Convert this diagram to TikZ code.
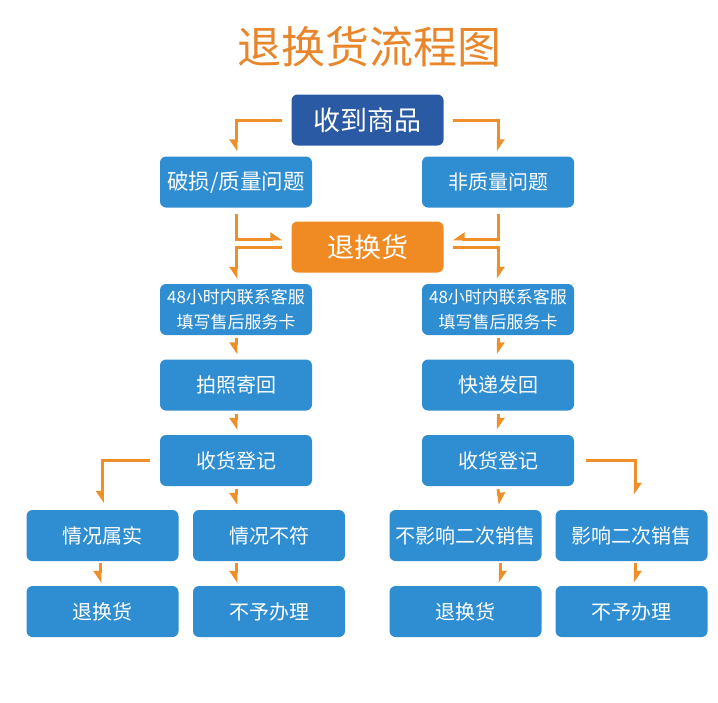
\documentclass[tikz,border=0pt]{standalone}
\usepackage{fontspec}
\setmainfont{Noto Sans CJK SC}
\usetikzlibrary{arrows.meta}
\definecolor{lightblue}{HTML}{2F8DD1}
\definecolor{darkblue}{HTML}{2A5AA3}
\definecolor{boxorange}{HTML}{F08A22}
\definecolor{arroworange}{HTML}{EF8F2A}
\definecolor{titleorange}{HTML}{E8862C}
\begin{document}
\begin{tikzpicture}[x=1pt,y=-1pt,
  box/.style={draw=none,fill=lightblue,text=white,rounded corners=6pt,minimum width=152pt,minimum height=51pt,inner sep=0pt,align=center,font=\fontsize{20}{25}\selectfont},
  wbar/.style={arroworange,line width=3pt,-{Triangle[right,length=10pt,width=13pt]}},
  ebar/.style={arroworange,line width=3pt,-{Triangle[left,length=10pt,width=13pt]}},
  plain/.style={arroworange,line width=3pt}]
\useasboundingbox (0,0) rectangle (718,702);
\node[text=titleorange,font=\fontsize{44}{50}\selectfont] (title) at (369,47) {退换货流程图};
\node[box,fill=darkblue,font=\fontsize{27}{30}\selectfont] (top) at (367.5,120) {收到商品};
\node[box,font=\fontsize{21.5}{26}\selectfont] (q1) at (236,182) {破损/质量问题};
\node[box] (q2) at (498,182) {非质量问题};
\node[box,fill=boxorange,font=\fontsize{27}{30}\selectfont] (th) at (367.5,247) {退换货};
\node[box,font=\fontsize{17}{25}\selectfont] (c1) at (236,309.5) {48小时内联系客服\\填写售后服务卡};
\node[box,font=\fontsize{17}{25}\selectfont] (c2) at (498,309.5) {48小时内联系客服\\填写售后服务卡};
\node[box] (p1) at (236,385) {拍照寄回};
\node[box] (p2) at (498,385) {快递发回};
\node[box] (r1) at (236,460.5) {收货登记};
\node[box] (r2) at (498,460.5) {收货登记};
\node[box] (b1) at (102.5,535.5) {情况属实};
\node[box] (b2) at (269,535.5) {情况不符};
\node[box] (b3) at (465.5,535.5) {不影响二次销售};
\node[box] (b4) at (631.5,535.5) {影响二次销售};
\node[box] (d1) at (102.5,611.5) {退换货};
\node[box] (d2) at (269,611.5) {不予办理};
\node[box] (d3) at (465.5,611.5) {退换货};
\node[box] (d4) at (631.5,611.5) {不予办理};
% top splits
\draw[wbar] ([xshift=-9pt]top.west) -| ([yshift=5pt]q1.north);
\draw[ebar] ([xshift=9pt]top.east) -| ([yshift=5pt]q2.north);
% into and out of 退换货
\draw[ebar] ([yshift=-6pt]q1.south) |- ([xshift=-9pt,yshift=8pt]th.west);
\draw[wbar] ([xshift=-9pt]th.west) -| ([yshift=5pt]c1.north);
\draw[wbar] ([yshift=-6pt]q2.south) |- ([xshift=9pt,yshift=8pt]th.east);
\draw[ebar] ([xshift=9pt]th.east) -| ([yshift=5pt]c2.north);
% left column
\draw[wbar] ([yshift=-3pt]c1.south) -- ([yshift=5pt]p1.north);
\draw[wbar] ([yshift=-3pt]p1.south) -- ([yshift=5pt]r1.north);
\draw[wbar] ([yshift=-3pt]r1.south) -- ([xshift=-33pt,yshift=5pt]b2.north);
\draw[wbar] ([xshift=-10pt]r1.west) -| ([yshift=7pt]b1.north);
% right column
\draw[ebar] ([yshift=-3pt]c2.south) -- ([yshift=5pt]p2.north);
\draw[ebar] ([yshift=-3pt]p2.south) -- ([yshift=5pt]r2.north);
\draw[ebar] ([yshift=-3pt]r2.south) -- ([xshift=34.5pt,yshift=5pt]b3.north);
\draw[ebar] ([xshift=12pt]r2.east) -| ([xshift=3.5pt,yshift=15pt]b4.north);
% bottom
\draw[wbar] ([xshift=-2.5pt,yshift=-2pt]b1.south) -- ([xshift=-2.5pt,yshift=3pt]d1.north);
\draw[wbar] ([xshift=-33pt,yshift=-2pt]b2.south) -- ([xshift=-33pt,yshift=3pt]d2.north);
\draw[ebar] ([xshift=34.5pt,yshift=-2pt]b3.south) -- ([xshift=34.5pt,yshift=3pt]d3.north);
\draw[ebar] ([xshift=3.5pt,yshift=-2pt]b4.south) -- ([xshift=3.5pt,yshift=3pt]d4.north);
\end{tikzpicture}
\end{document}
